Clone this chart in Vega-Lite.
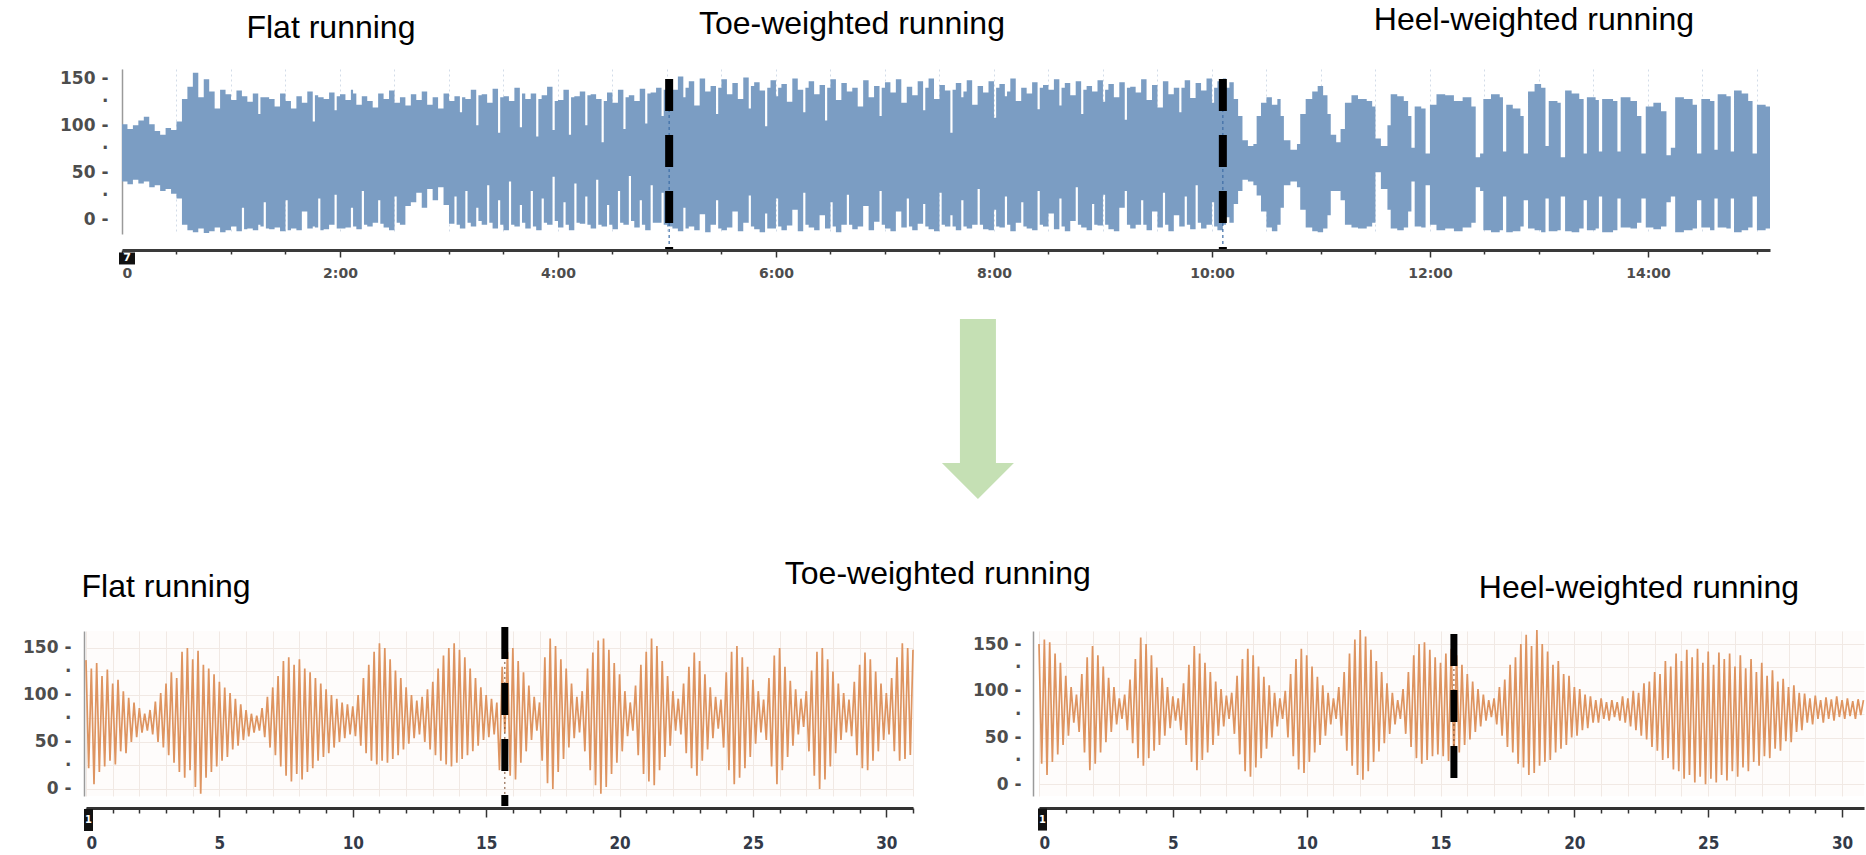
{
"$schema": "https://vega.github.io/schema/vega-lite/v6.json",
"background": "white",
"padding": {"left": 22, "top": 4, "right": 0, "bottom": 0},
"bounds": "flush",
"spacing": 562,
"config": {"view": {"stroke": null}, "axis": {"title": null}},
"datasets": {
"top": [
{"t":0,"v":101,"v2":40},{"t":0.05,"v":96,"v2":37},{"t":0.1,"v":100,"v2":42},{"t":0.15,"v":105,"v2":38},{"t":0.2,"v":109,"v2":40},{"t":0.25,"v":101,"v2":34},{"t":0.3,"v":94,"v2":36},{"t":0.35,"v":90,"v2":30},{"t":0.4,"v":97,"v2":32},{"t":0.45,"v":95,"v2":27},{"t":0.5,"v":104,"v2":22},{"t":0.55,"v":128,"v2":-6},{"t":0.6,"v":141,"v2":-12},{"t":0.65,"v":156,"v2":-14},{"t":0.7,"v":130,"v2":-10},{"t":0.75,"v":149,"v2":-15},{"t":0.8,"v":136,"v2":-13},{"t":0.85,"v":118,"v2":-9},{"t":0.9,"v":138,"v2":-14},{"t":0.95,"v":133,"v2":-12},
{"t":1,"v":127,"v2":-8},{"t":1.05,"v":137,"v2":-13},{"t":1.1,"v":131,"v2":12},{"t":1.12,"v":131,"v2":-11},{"t":1.15,"v":125,"v2":-10},{"t":1.2,"v":134,"v2":-12},{"t":1.25,"v":112,"v2":-6},{"t":1.27,"v":130,"v2":-8},{"t":1.3,"v":130,"v2":18},{"t":1.32,"v":130,"v2":-10},{"t":1.35,"v":128,"v2":-11},{"t":1.4,"v":120,"v2":-9},{"t":1.45,"v":134,"v2":-13},{"t":1.5,"v":126,"v2":20},{"t":1.52,"v":126,"v2":-12},{"t":1.55,"v":118,"v2":-10},{"t":1.6,"v":131,"v2":-12},{"t":1.65,"v":124,"v2":8},{"t":1.7,"v":136,"v2":-10},{"t":1.75,"v":104,"v2":-8},{"t":1.77,"v":132,"v2":-9},{"t":1.8,"v":130,"v2":22},{"t":1.82,"v":130,"v2":-12},{"t":1.85,"v":128,"v2":-11},{"t":1.9,"v":135,"v2":-6},{"t":1.95,"v":116,"v2":26},{"t":1.97,"v":131,"v2":-10},
{"t":2,"v":133,"v2":-10},{"t":2.05,"v":127,"v2":-9},{"t":2.1,"v":138,"v2":12},{"t":2.12,"v":134,"v2":-8},{"t":2.15,"v":122,"v2":-11},{"t":2.2,"v":131,"v2":30},{"t":2.22,"v":131,"v2":-6},{"t":2.25,"v":126,"v2":-8},{"t":2.3,"v":119,"v2":-4},{"t":2.35,"v":134,"v2":20},{"t":2.37,"v":134,"v2":-5},{"t":2.4,"v":128,"v2":-9},{"t":2.45,"v":137,"v2":-12},{"t":2.5,"v":124,"v2":24},{"t":2.52,"v":124,"v2":-4},{"t":2.55,"v":130,"v2":-6},{"t":2.6,"v":121,"v2":14},{"t":2.65,"v":133,"v2":18},{"t":2.7,"v":127,"v2":28},{"t":2.75,"v":136,"v2":12},{"t":2.8,"v":122,"v2":32},{"t":2.85,"v":130,"v2":20},{"t":2.9,"v":118,"v2":34},{"t":2.95,"v":134,"v2":15},
{"t":3,"v":126,"v2":-5},{"t":3.05,"v":131,"v2":24},{"t":3.07,"v":131,"v2":-6},{"t":3.1,"v":114,"v2":-10},{"t":3.12,"v":130,"v2":-10},{"t":3.15,"v":128,"v2":30},{"t":3.17,"v":128,"v2":-4},{"t":3.2,"v":138,"v2":-8},{"t":3.25,"v":100,"v2":12},{"t":3.27,"v":132,"v2":-2},{"t":3.3,"v":133,"v2":-6},{"t":3.35,"v":124,"v2":36},{"t":3.37,"v":124,"v2":-4},{"t":3.4,"v":139,"v2":-10},{"t":3.45,"v":92,"v2":20},{"t":3.47,"v":130,"v2":-6},{"t":3.5,"v":131,"v2":-12},{"t":3.55,"v":126,"v2":40},{"t":3.57,"v":126,"v2":-6},{"t":3.6,"v":140,"v2":-8},{"t":3.65,"v":98,"v2":15},{"t":3.67,"v":134,"v2":-4},{"t":3.7,"v":128,"v2":-10},{"t":3.75,"v":134,"v2":30},{"t":3.77,"v":134,"v2":-8},{"t":3.8,"v":88,"v2":-12},{"t":3.82,"v":128,"v2":-12},{"t":3.85,"v":132,"v2":22},{"t":3.87,"v":132,"v2":-4},{"t":3.9,"v":141,"v2":-6},{"t":3.95,"v":95,"v2":45},{"t":3.97,"v":126,"v2":-2},
{"t":4,"v":127,"v2":-9},{"t":4.05,"v":138,"v2":18},{"t":4.07,"v":138,"v2":-6},{"t":4.1,"v":90,"v2":-12},{"t":4.12,"v":130,"v2":-12},{"t":4.15,"v":131,"v2":38},{"t":4.17,"v":131,"v2":-4},{"t":4.2,"v":136,"v2":-5},{"t":4.25,"v":100,"v2":24},{"t":4.27,"v":132,"v2":-6},{"t":4.3,"v":133,"v2":-10},{"t":4.35,"v":128,"v2":42},{"t":4.37,"v":128,"v2":-6},{"t":4.4,"v":82,"v2":-8},{"t":4.42,"v":126,"v2":-8},{"t":4.45,"v":135,"v2":15},{"t":4.47,"v":135,"v2":-6},{"t":4.5,"v":124,"v2":-11},{"t":4.55,"v":138,"v2":30},{"t":4.57,"v":138,"v2":-4},{"t":4.6,"v":96,"v2":-6},{"t":4.62,"v":130,"v2":-6},{"t":4.65,"v":132,"v2":46},{"t":4.67,"v":132,"v2":-2},{"t":4.7,"v":126,"v2":-9},{"t":4.75,"v":139,"v2":20},{"t":4.77,"v":139,"v2":-6},{"t":4.8,"v":102,"v2":-12},{"t":4.82,"v":134,"v2":-12},{"t":4.85,"v":135,"v2":36},{"t":4.87,"v":135,"v2":-4},{"t":4.9,"v":140,"v2":-4},{"t":4.95,"v":110,"v2":28},{"t":4.97,"v":138,"v2":-6},
{"t":5,"v":146,"v2":-8},{"t":5.05,"v":138,"v2":-10},{"t":5.1,"v":152,"v2":-13},{"t":5.15,"v":130,"v2":12},{"t":5.17,"v":140,"v2":-10},{"t":5.2,"v":147,"v2":-8},{"t":5.25,"v":121,"v2":-12},{"t":5.3,"v":150,"v2":5},{"t":5.35,"v":136,"v2":-14},{"t":5.4,"v":142,"v2":-6},{"t":5.45,"v":112,"v2":20},{"t":5.47,"v":140,"v2":-10},{"t":5.5,"v":149,"v2":-12},{"t":5.55,"v":133,"v2":-9},{"t":5.6,"v":145,"v2":8},{"t":5.65,"v":128,"v2":-13},{"t":5.7,"v":151,"v2":-4},{"t":5.75,"v":118,"v2":25},{"t":5.77,"v":142,"v2":-8},{"t":5.8,"v":146,"v2":-11},{"t":5.85,"v":137,"v2":-14},{"t":5.9,"v":99,"v2":6},{"t":5.92,"v":140,"v2":-10},{"t":5.95,"v":148,"v2":-10},
{"t":6,"v":131,"v2":22},{"t":6.02,"v":140,"v2":-8},{"t":6.05,"v":144,"v2":-12},{"t":6.1,"v":125,"v2":-7},{"t":6.15,"v":150,"v2":10},{"t":6.2,"v":138,"v2":-13},{"t":6.25,"v":114,"v2":28},{"t":6.27,"v":140,"v2":-6},{"t":6.3,"v":147,"v2":-9},{"t":6.35,"v":133,"v2":-12},{"t":6.4,"v":143,"v2":4},{"t":6.45,"v":105,"v2":-10},{"t":6.47,"v":140,"v2":-10},{"t":6.5,"v":149,"v2":18},{"t":6.52,"v":149,"v2":-8},{"t":6.55,"v":127,"v2":-14},{"t":6.6,"v":145,"v2":-6},{"t":6.65,"v":136,"v2":26},{"t":6.67,"v":136,"v2":-6},{"t":6.7,"v":140,"v2":-11},{"t":6.75,"v":120,"v2":-8},{"t":6.8,"v":148,"v2":14},{"t":6.85,"v":130,"v2":-12},{"t":6.9,"v":142,"v2":-3},{"t":6.95,"v":110,"v2":30},{"t":6.97,"v":140,"v2":-6},
{"t":7,"v":146,"v2":-10},{"t":7.05,"v":135,"v2":-13},{"t":7.1,"v":149,"v2":8},{"t":7.15,"v":124,"v2":-9},{"t":7.2,"v":141,"v2":22},{"t":7.22,"v":141,"v2":-8},{"t":7.25,"v":132,"v2":-12},{"t":7.3,"v":147,"v2":-5},{"t":7.35,"v":116,"v2":16},{"t":7.37,"v":140,"v2":-8},{"t":7.4,"v":150,"v2":-11},{"t":7.45,"v":128,"v2":-13},{"t":7.5,"v":143,"v2":28},{"t":7.52,"v":143,"v2":-6},{"t":7.55,"v":137,"v2":-8},{"t":7.6,"v":92,"v2":4},{"t":7.62,"v":138,"v2":-8},{"t":7.65,"v":145,"v2":-12},{"t":7.7,"v":130,"v2":20},{"t":7.72,"v":136,"v2":-8},{"t":7.75,"v":148,"v2":-10},{"t":7.8,"v":122,"v2":-6},{"t":7.85,"v":142,"v2":32},{"t":7.87,"v":142,"v2":-6},{"t":7.9,"v":135,"v2":-11},{"t":7.95,"v":147,"v2":-12},
{"t":8,"v":108,"v2":10},{"t":8.02,"v":140,"v2":-8},{"t":8.05,"v":144,"v2":-9},{"t":8.1,"v":131,"v2":24},{"t":8.12,"v":136,"v2":-6},{"t":8.15,"v":150,"v2":-13},{"t":8.2,"v":126,"v2":-4},{"t":8.25,"v":140,"v2":18},{"t":8.27,"v":140,"v2":-8},{"t":8.3,"v":134,"v2":-10},{"t":8.35,"v":146,"v2":-12},{"t":8.4,"v":117,"v2":30},{"t":8.42,"v":140,"v2":-6},{"t":8.45,"v":143,"v2":-8},{"t":8.5,"v":138,"v2":6},{"t":8.55,"v":149,"v2":-11},{"t":8.6,"v":121,"v2":22},{"t":8.62,"v":140,"v2":-8},{"t":8.65,"v":145,"v2":-13},{"t":8.7,"v":132,"v2":-2},{"t":8.75,"v":147,"v2":34},{"t":8.77,"v":147,"v2":-6},{"t":8.8,"v":112,"v2":-9},{"t":8.82,"v":138,"v2":-9},{"t":8.85,"v":142,"v2":-12},{"t":8.9,"v":136,"v2":16},{"t":8.92,"v":136,"v2":-6},{"t":8.95,"v":148,"v2":-7},
{"t":9,"v":125,"v2":26},{"t":9.02,"v":138,"v2":-6},{"t":9.05,"v":144,"v2":-11},{"t":9.1,"v":130,"v2":-13},{"t":9.15,"v":146,"v2":12},{"t":9.2,"v":106,"v2":30},{"t":9.22,"v":140,"v2":-6},{"t":9.25,"v":141,"v2":-10},{"t":9.3,"v":135,"v2":-6},{"t":9.35,"v":149,"v2":20},{"t":9.37,"v":149,"v2":-6},{"t":9.4,"v":127,"v2":-12},{"t":9.45,"v":143,"v2":8},{"t":9.5,"v":119,"v2":-9},{"t":9.55,"v":147,"v2":28},{"t":9.57,"v":147,"v2":-6},{"t":9.6,"v":133,"v2":-13},{"t":9.65,"v":140,"v2":4},{"t":9.7,"v":114,"v2":-8},{"t":9.72,"v":140,"v2":-8},{"t":9.75,"v":148,"v2":24},{"t":9.77,"v":148,"v2":-6},{"t":9.8,"v":129,"v2":-11},{"t":9.85,"v":145,"v2":36},{"t":9.87,"v":145,"v2":-4},{"t":9.9,"v":137,"v2":-10},{"t":9.95,"v":150,"v2":-6},
{"t":10,"v":124,"v2":18},{"t":10.02,"v":140,"v2":-8},{"t":10.05,"v":147,"v2":-12},{"t":10.1,"v":150,"v2":-6},{"t":10.13,"v":140,"v2":2},{"t":10.16,"v":146,"v2":-4},{"t":10.2,"v":128,"v2":16},{"t":10.24,"v":110,"v2":30},{"t":10.28,"v":84,"v2":42},{"t":10.33,"v":78,"v2":40},{"t":10.38,"v":80,"v2":36},{"t":10.41,"v":110,"v2":25},{"t":10.45,"v":124,"v2":8},{"t":10.5,"v":130,"v2":-9},{"t":10.55,"v":122,"v2":-13},{"t":10.6,"v":128,"v2":-6},{"t":10.63,"v":110,"v2":12},{"t":10.66,"v":84,"v2":36},{"t":10.72,"v":74,"v2":40},{"t":10.78,"v":80,"v2":34},{"t":10.81,"v":112,"v2":10},
{"t":10.86,"v":128,"v2":-9},{"t":10.92,"v":136,"v2":-13},{"t":10.97,"v":142,"v2":-14},{"t":11.02,"v":132,"v2":-10},{"t":11.06,"v":112,"v2":4},{"t":11.09,"v":90,"v2":30},{"t":11.14,"v":82,"v2":30},{"t":11.18,"v":96,"v2":20},{"t":11.22,"v":124,"v2":-6},{"t":11.28,"v":132,"v2":-9},{"t":11.34,"v":128,"v2":-10},{"t":11.42,"v":126,"v2":-8},{"t":11.47,"v":120,"v2":-4},{"t":11.5,"v":86,"v2":50},{"t":11.55,"v":78,"v2":32},{"t":11.61,"v":100,"v2":10},{"t":11.64,"v":133,"v2":-10},{"t":11.7,"v":131,"v2":-12},{"t":11.76,"v":126,"v2":-9},{"t":11.8,"v":110,"v2":8},
{"t":11.83,"v":76,"v2":40},{"t":11.86,"v":120,"v2":-8},{"t":11.92,"v":118,"v2":-9},{"t":11.96,"v":70,"v2":36},{"t":12,"v":122,"v2":-6},{"t":12.06,"v":133,"v2":-12},{"t":12.14,"v":132,"v2":-10},{"t":12.22,"v":126,"v2":-13},{"t":12.3,"v":130,"v2":-9},{"t":12.38,"v":120,"v2":-4},{"t":12.42,"v":66,"v2":34},{"t":12.46,"v":70,"v2":30},{"t":12.49,"v":128,"v2":-12},{"t":12.56,"v":133,"v2":-14},{"t":12.64,"v":130,"v2":-12},{"t":12.67,"v":72,"v2":24},{"t":12.7,"v":122,"v2":-14},{"t":12.76,"v":118,"v2":-13},{"t":12.83,"v":110,"v2":-8},{"t":12.86,"v":70,"v2":20},
{"t":12.9,"v":136,"v2":-10},{"t":12.96,"v":144,"v2":-12},{"t":13.02,"v":140,"v2":-14},{"t":13.06,"v":78,"v2":22},{"t":13.09,"v":126,"v2":-13},{"t":13.17,"v":124,"v2":-12},{"t":13.2,"v":66,"v2":24},{"t":13.24,"v":137,"v2":-13},{"t":13.3,"v":134,"v2":-14},{"t":13.37,"v":128,"v2":-10},{"t":13.41,"v":70,"v2":20},{"t":13.44,"v":130,"v2":-12},{"t":13.52,"v":127,"v2":-10},{"t":13.55,"v":72,"v2":24},{"t":13.58,"v":128,"v2":-14},{"t":13.68,"v":126,"v2":-12},{"t":13.72,"v":72,"v2":22},{"t":13.75,"v":130,"v2":-9},{"t":13.84,"v":126,"v2":-10},{"t":13.9,"v":110,"v2":-4},
{"t":13.94,"v":70,"v2":22},{"t":13.98,"v":120,"v2":-9},{"t":14.05,"v":124,"v2":-11},{"t":14.12,"v":115,"v2":-8},{"t":14.17,"v":68,"v2":18},{"t":14.21,"v":76,"v2":24},{"t":14.25,"v":130,"v2":-14},{"t":14.33,"v":128,"v2":-12},{"t":14.41,"v":122,"v2":-10},{"t":14.45,"v":70,"v2":20},{"t":14.49,"v":128,"v2":-9},{"t":14.57,"v":126,"v2":-12},{"t":14.61,"v":74,"v2":22},{"t":14.64,"v":133,"v2":-9},{"t":14.72,"v":131,"v2":-10},{"t":14.76,"v":72,"v2":22},{"t":14.79,"v":137,"v2":-14},{"t":14.86,"v":134,"v2":-12},{"t":14.92,"v":126,"v2":-9},{"t":14.96,"v":70,"v2":24},
{"t":15,"v":122,"v2":-12},{"t":15.08,"v":120,"v2":-10},{"t":15.12,"v":118,"v2":-8}
],
"topSplit": [{"t":5.02,"v":149.3,"v2":-32},{"t":10.1,"v":149.3,"v2":-32}],
"topTitles": [{"t":1.917,"v":193.1,"label":"Flat running"},{"t":6.697,"v":197.3,"label":"Toe-weighted running"},{"t":12.954,"v":201.6,"label":"Heel-weighted running"}],
"arrow": [{"t":7.853,"v":-202.7}],
"topBox": [{"t":0.046,"v":-42.1,"label":"7"}],
"bl": [
{"t":0,"v":137},{"t":0.1,"v":22},{"t":0.2,"v":128},{"t":0.3,"v":5},{"t":0.4,"v":134},{"t":0.5,"v":18},{"t":0.6,"v":120},{"t":0.7,"v":24},{"t":0.8,"v":127},{"t":0.9,"v":30},
{"t":1,"v":112},{"t":1.1,"v":26},{"t":1.2,"v":116},{"t":1.3,"v":40},{"t":1.4,"v":104},{"t":1.5,"v":38},{"t":1.6,"v":97},{"t":1.7,"v":50},{"t":1.8,"v":92},{"t":1.9,"v":55},
{"t":2,"v":86},{"t":2.1,"v":60},{"t":2.2,"v":80},{"t":2.3,"v":62},{"t":2.4,"v":84},{"t":2.5,"v":58},{"t":2.6,"v":93},{"t":2.7,"v":50},{"t":2.8,"v":102},{"t":2.9,"v":44},
{"t":3,"v":112},{"t":3.1,"v":36},{"t":3.2,"v":124},{"t":3.3,"v":28},{"t":3.4,"v":118},{"t":3.5,"v":18},{"t":3.6,"v":146},{"t":3.7,"v":12},{"t":3.8,"v":150},{"t":3.9,"v":20},
{"t":4,"v":138},{"t":4.1,"v":2},{"t":4.2,"v":147},{"t":4.3,"v":-5},{"t":4.4,"v":132},{"t":4.5,"v":12},{"t":4.6,"v":128},{"t":4.7,"v":18},{"t":4.8,"v":122},{"t":4.9,"v":24},
{"t":5,"v":114},{"t":5.1,"v":30},{"t":5.2,"v":108},{"t":5.3,"v":34},{"t":5.4,"v":102},{"t":5.5,"v":42},{"t":5.6,"v":96},{"t":5.7,"v":46},{"t":5.8,"v":90},{"t":5.9,"v":52},
{"t":6,"v":84},{"t":6.1,"v":56},{"t":6.2,"v":80},{"t":6.3,"v":60},{"t":6.4,"v":78},{"t":6.5,"v":62},{"t":6.6,"v":86},{"t":6.7,"v":55},{"t":6.8,"v":98},{"t":6.9,"v":44},
{"t":7,"v":108},{"t":7.1,"v":36},{"t":7.2,"v":120},{"t":7.3,"v":24},{"t":7.4,"v":136},{"t":7.5,"v":14},{"t":7.6,"v":140},{"t":7.7,"v":8},{"t":7.8,"v":132},{"t":7.9,"v":16},
{"t":8,"v":138},{"t":8.1,"v":10},{"t":8.2,"v":128},{"t":8.3,"v":18},{"t":8.4,"v":124},{"t":8.5,"v":22},{"t":8.6,"v":118},{"t":8.7,"v":30},{"t":8.8,"v":112},{"t":8.9,"v":34},
{"t":9,"v":106},{"t":9.1,"v":38},{"t":9.2,"v":100},{"t":9.3,"v":44},{"t":9.4,"v":96},{"t":9.5,"v":50},{"t":9.6,"v":92},{"t":9.7,"v":54},{"t":9.8,"v":90},{"t":9.9,"v":58},
{"t":10,"v":88},{"t":10.1,"v":56},{"t":10.2,"v":100},{"t":10.3,"v":46},{"t":10.4,"v":118},{"t":10.5,"v":38},{"t":10.6,"v":132},{"t":10.7,"v":30},{"t":10.8,"v":146},{"t":10.9,"v":26},
{"t":11,"v":155},{"t":11.1,"v":30},{"t":11.2,"v":150},{"t":11.3,"v":28},{"t":11.4,"v":138},{"t":11.5,"v":32},{"t":11.6,"v":126},{"t":11.7,"v":36},{"t":11.8,"v":118},{"t":11.9,"v":42},
{"t":12,"v":108},{"t":12.1,"v":48},{"t":12.2,"v":100},{"t":12.3,"v":54},{"t":12.4,"v":94},{"t":12.5,"v":58},{"t":12.6,"v":98},{"t":12.7,"v":50},{"t":12.8,"v":106},{"t":12.9,"v":42},
{"t":13,"v":114},{"t":13.1,"v":36},{"t":13.2,"v":128},{"t":13.3,"v":30},{"t":13.4,"v":142},{"t":13.5,"v":26},{"t":13.6,"v":150},{"t":13.7,"v":24},{"t":13.8,"v":155},{"t":13.9,"v":28},
{"t":14,"v":148},{"t":14.1,"v":32},{"t":14.2,"v":140},{"t":14.3,"v":36},{"t":14.4,"v":128},{"t":14.5,"v":40},{"t":14.6,"v":118},{"t":14.7,"v":46},{"t":14.8,"v":108},{"t":14.9,"v":52},
{"t":15,"v":100},{"t":15.1,"v":55},{"t":15.2,"v":96},{"t":15.3,"v":58},{"t":15.4,"v":92},{"t":15.5,"v":20},{"t":15.6,"v":130},{"t":15.7,"v":60},{"t":15.8,"v":146},{"t":15.9,"v":14},
{"t":16,"v":150},{"t":16.1,"v":10},{"t":16.2,"v":136},{"t":16.3,"v":28},{"t":16.4,"v":124},{"t":16.5,"v":40},{"t":16.6,"v":110},{"t":16.7,"v":52},{"t":16.8,"v":98},{"t":16.9,"v":62},
{"t":17,"v":92},{"t":17.1,"v":30},{"t":17.2,"v":140},{"t":17.3,"v":6},{"t":17.4,"v":160},{"t":17.5,"v":0},{"t":17.6,"v":152},{"t":17.7,"v":18},{"t":17.8,"v":138},{"t":17.9,"v":32},
{"t":18,"v":128},{"t":18.1,"v":44},{"t":18.2,"v":112},{"t":18.3,"v":54},{"t":18.4,"v":98},{"t":18.5,"v":60},{"t":18.6,"v":104},{"t":18.7,"v":40},{"t":18.8,"v":128},{"t":18.9,"v":20},
{"t":19,"v":145},{"t":19.1,"v":4},{"t":19.2,"v":158},{"t":19.3,"v":-5},{"t":19.4,"v":160},{"t":19.5,"v":2},{"t":19.6,"v":148},{"t":19.7,"v":16},{"t":19.8,"v":134},{"t":19.9,"v":28},
{"t":20,"v":122},{"t":20.1,"v":40},{"t":20.2,"v":104},{"t":20.3,"v":56},{"t":20.4,"v":92},{"t":20.5,"v":62},{"t":20.6,"v":110},{"t":20.7,"v":36},{"t":20.8,"v":132},{"t":20.9,"v":16},
{"t":21,"v":146},{"t":21.1,"v":8},{"t":21.2,"v":160},{"t":21.3,"v":4},{"t":21.4,"v":152},{"t":21.5,"v":20},{"t":21.6,"v":136},{"t":21.7,"v":34},{"t":21.8,"v":120},{"t":21.9,"v":46},
{"t":22,"v":104},{"t":22.1,"v":62},{"t":22.2,"v":96},{"t":22.3,"v":58},{"t":22.4,"v":112},{"t":22.5,"v":38},{"t":22.6,"v":130},{"t":22.7,"v":22},{"t":22.8,"v":145},{"t":22.9,"v":14},
{"t":23,"v":136},{"t":23.1,"v":30},{"t":23.2,"v":122},{"t":23.3,"v":42},{"t":23.4,"v":108},{"t":23.5,"v":54},{"t":23.6,"v":98},{"t":23.7,"v":64},{"t":23.8,"v":95},{"t":23.9,"v":44},
{"t":24,"v":124},{"t":24.1,"v":20},{"t":24.2,"v":146},{"t":24.3,"v":5},{"t":24.4,"v":152},{"t":24.5,"v":12},{"t":24.6,"v":140},{"t":24.7,"v":22},{"t":24.8,"v":130},{"t":24.9,"v":34},
{"t":25,"v":116},{"t":25.1,"v":48},{"t":25.2,"v":104},{"t":25.3,"v":60},{"t":25.4,"v":95},{"t":25.5,"v":52},{"t":25.6,"v":118},{"t":25.7,"v":24},{"t":25.8,"v":142},{"t":25.9,"v":5},
{"t":26,"v":150},{"t":26.1,"v":20},{"t":26.2,"v":130},{"t":26.3,"v":34},{"t":26.4,"v":115},{"t":26.5,"v":46},{"t":26.6,"v":106},{"t":26.7,"v":58},{"t":26.8,"v":96},{"t":26.9,"v":66},
{"t":27,"v":104},{"t":27.1,"v":40},{"t":27.2,"v":126},{"t":27.3,"v":14},{"t":27.4,"v":146},{"t":27.5,"v":0},{"t":27.6,"v":150},{"t":27.7,"v":10},{"t":27.8,"v":138},{"t":27.9,"v":24},
{"t":28,"v":125},{"t":28.1,"v":38},{"t":28.2,"v":112},{"t":28.3,"v":52},{"t":28.4,"v":102},{"t":28.5,"v":60},{"t":28.6,"v":95},{"t":28.7,"v":56},{"t":28.8,"v":114},{"t":28.9,"v":36},
{"t":29,"v":132},{"t":29.1,"v":22},{"t":29.2,"v":145},{"t":29.3,"v":20},{"t":29.4,"v":138},{"t":29.5,"v":30},{"t":29.6,"v":125},{"t":29.7,"v":40},{"t":29.8,"v":112},{"t":29.9,"v":52},
{"t":30,"v":102},{"t":30.1,"v":58},{"t":30.2,"v":118},{"t":30.3,"v":40},{"t":30.4,"v":140},{"t":30.5,"v":30},{"t":30.6,"v":155},{"t":30.7,"v":32},{"t":30.8,"v":150},{"t":30.9,"v":36},
{"t":31,"v":148}
],
"blSplit": [{"t":15.7,"v":172.3,"v2":-18.1}],
"blTitles": [{"t":3.0,"v":204.2,"label":"Flat running"},{"t":31.93,"v":218.0,"label":"Toe-weighted running"}],
"blBox": [{"t":0.094,"v":-33.0,"label":"1"}],
"br": [
{"t":0,"v":150},{"t":0.1,"v":22},{"t":0.2,"v":155},{"t":0.3,"v":10},{"t":0.4,"v":152},{"t":0.5,"v":24},{"t":0.6,"v":140},{"t":0.7,"v":32},{"t":0.8,"v":130},{"t":0.9,"v":42},
{"t":1,"v":116},{"t":1.1,"v":52},{"t":1.2,"v":104},{"t":1.3,"v":66},{"t":1.4,"v":96},{"t":1.5,"v":56},{"t":1.6,"v":118},{"t":1.7,"v":34},{"t":1.8,"v":136},{"t":1.9,"v":15},
{"t":2,"v":148},{"t":2.1,"v":22},{"t":2.2,"v":138},{"t":2.3,"v":34},{"t":2.4,"v":126},{"t":2.5,"v":45},{"t":2.6,"v":114},{"t":2.7,"v":56},{"t":2.8,"v":104},{"t":2.9,"v":64},
{"t":3,"v":92},{"t":3.1,"v":70},{"t":3.2,"v":96},{"t":3.3,"v":58},{"t":3.4,"v":112},{"t":3.5,"v":44},{"t":3.6,"v":134},{"t":3.7,"v":28},{"t":3.8,"v":157},{"t":3.9,"v":20},
{"t":4,"v":150},{"t":4.1,"v":28},{"t":4.2,"v":138},{"t":4.3,"v":36},{"t":4.4,"v":125},{"t":4.5,"v":42},{"t":4.6,"v":114},{"t":4.7,"v":52},{"t":4.8,"v":104},{"t":4.9,"v":60},
{"t":5,"v":94},{"t":5.1,"v":68},{"t":5.2,"v":92},{"t":5.3,"v":58},{"t":5.4,"v":108},{"t":5.5,"v":42},{"t":5.6,"v":128},{"t":5.7,"v":24},{"t":5.8,"v":148},{"t":5.9,"v":15},
{"t":6,"v":140},{"t":6.1,"v":26},{"t":6.2,"v":130},{"t":6.3,"v":34},{"t":6.4,"v":120},{"t":6.5,"v":42},{"t":6.6,"v":110},{"t":6.7,"v":52},{"t":6.8,"v":102},{"t":6.9,"v":62},
{"t":7,"v":95},{"t":7.1,"v":70},{"t":7.2,"v":98},{"t":7.3,"v":54},{"t":7.4,"v":116},{"t":7.5,"v":32},{"t":7.6,"v":134},{"t":7.7,"v":14},{"t":7.8,"v":145},{"t":7.9,"v":8},
{"t":8,"v":138},{"t":8.1,"v":18},{"t":8.2,"v":126},{"t":8.3,"v":28},{"t":8.4,"v":115},{"t":8.5,"v":38},{"t":8.6,"v":106},{"t":8.7,"v":50},{"t":8.8,"v":98},{"t":8.9,"v":62},
{"t":9,"v":92},{"t":9.1,"v":70},{"t":9.2,"v":100},{"t":9.3,"v":50},{"t":9.4,"v":118},{"t":9.5,"v":30},{"t":9.6,"v":134},{"t":9.7,"v":16},{"t":9.8,"v":145},{"t":9.9,"v":12},
{"t":10,"v":138},{"t":10.1,"v":24},{"t":10.2,"v":126},{"t":10.3,"v":34},{"t":10.4,"v":115},{"t":10.5,"v":42},{"t":10.6,"v":106},{"t":10.7,"v":52},{"t":10.8,"v":98},{"t":10.9,"v":64},
{"t":11,"v":92},{"t":11.1,"v":70},{"t":11.2,"v":104},{"t":11.3,"v":52},{"t":11.4,"v":120},{"t":11.5,"v":36},{"t":11.6,"v":140},{"t":11.7,"v":20},{"t":11.8,"v":155},{"t":11.9,"v":10},
{"t":12,"v":165},{"t":12.1,"v":5},{"t":12.2,"v":158},{"t":12.3,"v":14},{"t":12.4,"v":144},{"t":12.5,"v":24},{"t":12.6,"v":132},{"t":12.7,"v":35},{"t":12.8,"v":120},{"t":12.9,"v":44},
{"t":13,"v":108},{"t":13.1,"v":54},{"t":13.2,"v":98},{"t":13.3,"v":64},{"t":13.4,"v":90},{"t":13.5,"v":70},{"t":13.6,"v":102},{"t":13.7,"v":54},{"t":13.8,"v":120},{"t":13.9,"v":40},
{"t":14,"v":138},{"t":14.1,"v":28},{"t":14.2,"v":150},{"t":14.3,"v":22},{"t":14.4,"v":152},{"t":14.5,"v":26},{"t":14.6,"v":144},{"t":14.7,"v":30},{"t":14.8,"v":136},{"t":14.9,"v":32},
{"t":15,"v":130},{"t":15.1,"v":30},{"t":15.2,"v":140},{"t":15.3,"v":25},{"t":15.4,"v":145},{"t":15.5,"v":28},{"t":15.6,"v":138},{"t":15.7,"v":34},{"t":15.8,"v":128},{"t":15.9,"v":42},
{"t":16,"v":118},{"t":16.1,"v":48},{"t":16.2,"v":110},{"t":16.3,"v":56},{"t":16.4,"v":102},{"t":16.5,"v":62},{"t":16.6,"v":96},{"t":16.7,"v":68},{"t":16.8,"v":90},{"t":16.9,"v":72},
{"t":17,"v":92},{"t":17.1,"v":64},{"t":17.2,"v":104},{"t":17.3,"v":52},{"t":17.4,"v":112},{"t":17.5,"v":40},{"t":17.6,"v":128},{"t":17.7,"v":34},{"t":17.8,"v":136},{"t":17.9,"v":22},
{"t":18,"v":150},{"t":18.1,"v":18},{"t":18.2,"v":160},{"t":18.3,"v":10},{"t":18.4,"v":148},{"t":18.5,"v":12},{"t":18.6,"v":165},{"t":18.7,"v":20},{"t":18.8,"v":150},{"t":18.9,"v":24},
{"t":19,"v":142},{"t":19.1,"v":26},{"t":19.2,"v":128},{"t":19.3,"v":34},{"t":19.4,"v":132},{"t":19.5,"v":38},{"t":19.6,"v":118},{"t":19.7,"v":42},{"t":19.8,"v":116},{"t":19.9,"v":50},
{"t":20,"v":104},{"t":20.1,"v":52},{"t":20.2,"v":102},{"t":20.3,"v":58},{"t":20.4,"v":96},{"t":20.5,"v":60},{"t":20.6,"v":94},{"t":20.7,"v":66},{"t":20.8,"v":90},{"t":20.9,"v":66},
{"t":21,"v":92},{"t":21.1,"v":70},{"t":21.2,"v":88},{"t":21.3,"v":68},{"t":21.4,"v":90},{"t":21.5,"v":72},{"t":21.6,"v":88},{"t":21.7,"v":68},{"t":21.8,"v":94},{"t":21.9,"v":66},
{"t":22,"v":92},{"t":22.1,"v":62},{"t":22.2,"v":100},{"t":22.3,"v":58},{"t":22.4,"v":98},{"t":22.5,"v":52},{"t":22.6,"v":108},{"t":22.7,"v":48},{"t":22.8,"v":110},{"t":22.9,"v":40},
{"t":23,"v":120},{"t":23.1,"v":36},{"t":23.2,"v":118},{"t":23.3,"v":26},{"t":23.4,"v":132},{"t":23.5,"v":28},{"t":23.6,"v":126},{"t":23.7,"v":16},{"t":23.8,"v":140},{"t":23.9,"v":14},
{"t":24,"v":132},{"t":24.1,"v":6},{"t":24.2,"v":144},{"t":24.3,"v":10},{"t":24.4,"v":136},{"t":24.5,"v":2},{"t":24.6,"v":145},{"t":24.7,"v":8},{"t":24.8,"v":130},{"t":24.9,"v":0},
{"t":25,"v":142},{"t":25.1,"v":6},{"t":25.2,"v":128},{"t":25.3,"v":2},{"t":25.4,"v":141},{"t":25.5,"v":10},{"t":25.6,"v":134},{"t":25.7,"v":4},{"t":25.8,"v":140},{"t":25.9,"v":14},
{"t":26,"v":126},{"t":26.1,"v":8},{"t":26.2,"v":138},{"t":26.3,"v":18},{"t":26.4,"v":124},{"t":26.5,"v":14},{"t":26.6,"v":134},{"t":26.7,"v":24},{"t":26.8,"v":120},{"t":26.9,"v":20},
{"t":27,"v":130},{"t":27.1,"v":30},{"t":27.2,"v":116},{"t":27.3,"v":28},{"t":27.4,"v":122},{"t":27.5,"v":38},{"t":27.6,"v":110},{"t":27.7,"v":36},{"t":27.8,"v":113},{"t":27.9,"v":46},
{"t":28,"v":104},{"t":28.1,"v":45},{"t":28.2,"v":106},{"t":28.3,"v":56},{"t":28.4,"v":98},{"t":28.5,"v":58},{"t":28.6,"v":97},{"t":28.7,"v":66},{"t":28.8,"v":92},{"t":28.9,"v":64},
{"t":29,"v":95},{"t":29.1,"v":70},{"t":29.2,"v":90},{"t":29.3,"v":66},{"t":29.4,"v":93},{"t":29.5,"v":70},{"t":29.6,"v":91},{"t":29.7,"v":68},{"t":29.8,"v":94},{"t":29.9,"v":72},
{"t":30,"v":90},{"t":30.1,"v":70},{"t":30.2,"v":92},{"t":30.3,"v":73},{"t":30.4,"v":89},{"t":30.5,"v":70},{"t":30.6,"v":91},{"t":30.7,"v":74},{"t":30.8,"v":90}
],
"brSplit": [{"t":15.5,"v":160.8,"v2":6.7}],
"brTitles": [{"t":22.41,"v":199.3,"label":"Heel-weighted running"}],
"brBox": [{"t":0.13,"v":-37.7,"label":"1"}]
},
"vconcat": [
{
"hconcat": [
{"width": 36, "height": 165, "data": {"values": [{"a": 0}]}, "mark": {"type": "text"}, "encoding": {"text": {"value": ""}}},
{
"width": 1648, "height": 165,
"encoding": {
"x": {"field": "t", "type": "quantitative", "scale": {"domain": [0, 15.12], "nice": false, "zero": false},
 "axis": {"title": null, "offset": 16, "values": [0,0.5,1,1.5,2,2.5,3,3.5,4,4.5,5,5.5,6,6.5,7,7.5,8,8.5,9,9.5,10,10.5,11,11.5,12,12.5,13,13.5,14,14.5,15],
 "labelExpr": "datum.value == 0 ? '0' : (datum.value % 2 == 0 ? datum.value + ':00' : '')",
 "labelOverlap": false, "grid": true, "gridColor": "#d3dce8", "gridDash": [2, 3], "gridWidth": 1,
 "domainColor": "#3a3a3a", "domainWidth": 3, "tickColor": "#333333", "tickWidth": 1.5,
 "tickSize": {"condition": {"test": "datum.value % 2 == 0", "value": 7}, "value": 4},
 "labelFont": "DejaVu Sans", "labelFontWeight": "bold", "labelFontSize": 14, "labelColor": "#4d4d4d", "labelPadding": 9}},
"y": {"field": "v", "type": "quantitative", "scale": {"domain": [-16, 160], "nice": false, "zero": false},
 "axis": {"title": null, "values": [0,25,50,75,100,125,150], "labelExpr": "datum.value % 50 == 0 ? datum.value + ' -' : '·'",
 "ticks": false, "grid": false, "domainColor": "#9a9a9a", "domainWidth": 1.5,
 "labelFont": "DejaVu Sans", "labelFontWeight": "bold", "labelFontSize": 17, "labelColor": "#4d4d4d", "labelPadding": 14, "labelFlush": false}}
},
"layer": [
{"data": {"name": "top"}, "mark": {"type": "area", "color": "#7b9dc3", "opacity": 1, "interpolate": "step-after"}, "encoding": {"y2": {"field": "v2"}}},
{"data": {"name": "topSplit"}, "mark": {"type": "rule", "color": "#3d6da6", "strokeWidth": 1.2, "strokeDash": [3, 3]}, "encoding": {"y2": {"field": "v2"}}},
{"data": {"name": "topSplit"}, "mark": {"type": "rule", "color": "#000000", "strokeWidth": 8, "strokeDash": [32, 24]}, "encoding": {"y2": {"field": "v2"}}},
{"data": {"name": "topTitles"}, "mark": {"type": "text", "font": "Liberation Sans", "fontSize": 32, "color": "#000000", "align": "center", "baseline": "alphabetic"},
 "encoding": {"text": {"field": "label"}}},
{"data": {"name": "arrow"}, "mark": {"type": "point", "shape": "M -0.2 -1 L 0.2 -1 L 0.2 0.6 L 0.4 0.6 L 0 1 L -0.4 0.6 L -0.2 0.6 Z", "size": 32400, "filled": true, "color": "#c5e0b4", "opacity": 1, "strokeWidth": 0}},
{"data": {"name": "topBox"}, "mark": {"type": "point", "shape": "M -1 -0.75 L 1 -0.75 L 1 0.75 L -1 0.75 Z", "size": 256, "filled": true, "color": "#111111", "opacity": 1, "strokeWidth": 0}},
{"data": {"name": "topBox"}, "mark": {"type": "text", "font": "DejaVu Sans", "fontSize": 11, "fontWeight": "bold", "color": "#ffffff", "baseline": "middle", "align": "center"}, "encoding": {"text": {"field": "label"}}}
]
}
],
"spacing": 0,
"bounds": "flush"
},
{
"hconcat": [
{
"width": 827, "height": 165,
"view": {"fill": "#fefcfb", "stroke": null},
"encoding": {
"x": {"field": "t", "type": "quantitative", "scale": {"domain": [0, 31], "nice": false, "zero": false},
 "axis": {"title": null, "offset": 12, "values": [0,1,2,3,4,5,6,7,8,9,10,11,12,13,14,15,16,17,18,19,20,21,22,23,24,25,26,27,28,29,30,31],
 "labelExpr": "datum.value % 5 == 0 ? '' + datum.value : ''", "labelOverlap": false,
 "grid": true, "gridColor": "#f1e9e4", "gridWidth": 1,
 "domainColor": "#333333", "domainWidth": 3, "tickColor": "#333333", "tickWidth": 1.5,
 "tickSize": {"condition": {"test": "datum.value % 5 == 0", "value": 9}, "value": 5},
 "labelFont": "DejaVu Sans Condensed", "labelFontWeight": "bold", "labelFontSize": 17, "labelColor": "#333a48", "labelPadding": 18}},
"y": {"field": "v", "type": "quantitative", "scale": {"domain": [-7.5, 168], "nice": false, "zero": false},
 "axis": {"title": null, "offset": 2, "values": [0,25,50,75,100,125,150], "labelExpr": "datum.value % 50 == 0 ? datum.value + ' -' : '·'",
 "ticks": false, "grid": true, "gridColor": "#f1e9e4", "domainColor": "#9a9a9a", "domainWidth": 1.5,
 "labelFont": "DejaVu Sans", "labelFontWeight": "bold", "labelFontSize": 17, "labelColor": "#4d4d4d", "labelPadding": 13, "labelFlush": false}}
},
"layer": [
{"data": {"name": "bl"}, "mark": {"type": "line", "color": "#de9460", "strokeWidth": 1.7}},
{"data": {"name": "blSplit"}, "mark": {"type": "rule", "color": "#7a4a2a", "strokeWidth": 1, "strokeDash": [2, 3]}, "encoding": {"y2": {"field": "v2"}}},
{"data": {"name": "blSplit"}, "mark": {"type": "rule", "color": "#000000", "strokeWidth": 7, "strokeDash": [32, 24]}, "encoding": {"y2": {"field": "v2"}}},
{"data": {"name": "blTitles"}, "mark": {"type": "text", "font": "Liberation Sans", "fontSize": 32, "color": "#000000", "align": "center", "baseline": "alphabetic"},
 "encoding": {"text": {"field": "label"}}},
{"data": {"name": "blBox"}, "mark": {"type": "point", "shape": "M -0.41 -1 L 0.41 -1 L 0.41 1 L -0.41 1 Z", "size": 484, "filled": true, "color": "#111111", "opacity": 1, "strokeWidth": 0}},
{"data": {"name": "blBox"}, "mark": {"type": "text", "font": "DejaVu Sans Condensed", "fontSize": 11, "fontWeight": "bold", "color": "#ffffff", "baseline": "middle", "align": "center"}, "encoding": {"text": {"field": "label"}}}
]
},
{
"width": 825, "height": 165,
"view": {"fill": "#fefcfb", "stroke": null},
"encoding": {
"x": {"field": "t", "type": "quantitative", "scale": {"domain": [0, 30.82], "nice": false, "zero": false},
 "axis": {"title": null, "offset": 12, "values": [0,1,2,3,4,5,6,7,8,9,10,11,12,13,14,15,16,17,18,19,20,21,22,23,24,25,26,27,28,29,30],
 "labelExpr": "datum.value % 5 == 0 ? '' + datum.value : ''", "labelOverlap": false,
 "grid": true, "gridColor": "#f1e9e4", "gridWidth": 1,
 "domainColor": "#333333", "domainWidth": 3, "tickColor": "#333333", "tickWidth": 1.5,
 "tickSize": {"condition": {"test": "datum.value % 5 == 0", "value": 9}, "value": 5},
 "labelFont": "DejaVu Sans Condensed", "labelFontWeight": "bold", "labelFontSize": 17, "labelColor": "#333a48", "labelPadding": 18}},
"y": {"field": "v", "type": "quantitative", "scale": {"domain": [-12.5, 164], "nice": false, "zero": false},
 "axis": {"title": null, "offset": 6, "values": [0,25,50,75,100,125,150], "labelExpr": "datum.value % 50 == 0 ? datum.value + ' -' : '·'",
 "ticks": false, "grid": true, "gridColor": "#f1e9e4", "domainColor": "#9a9a9a", "domainWidth": 1.5,
 "labelFont": "DejaVu Sans", "labelFontWeight": "bold", "labelFontSize": 17, "labelColor": "#4d4d4d", "labelPadding": 12, "labelFlush": false}}
},
"layer": [
{"data": {"name": "br"}, "mark": {"type": "line", "color": "#de9460", "strokeWidth": 1.7}},
{"data": {"name": "brSplit"}, "mark": {"type": "rule", "color": "#7a4a2a", "strokeWidth": 1, "strokeDash": [2, 3]}, "encoding": {"y2": {"field": "v2"}}},
{"data": {"name": "brSplit"}, "mark": {"type": "rule", "color": "#000000", "strokeWidth": 7, "strokeDash": [32, 24]}, "encoding": {"y2": {"field": "v2"}}},
{"data": {"name": "brTitles"}, "mark": {"type": "text", "font": "Liberation Sans", "fontSize": 32, "color": "#000000", "align": "center", "baseline": "alphabetic"},
 "encoding": {"text": {"field": "label"}}},
{"data": {"name": "brBox"}, "mark": {"type": "point", "shape": "M -0.41 -1 L 0.41 -1 L 0.41 1 L -0.41 1 Z", "size": 484, "filled": true, "color": "#111111", "opacity": 1, "strokeWidth": 0}},
{"data": {"name": "brBox"}, "mark": {"type": "text", "font": "DejaVu Sans Condensed", "fontSize": 11, "fontWeight": "bold", "color": "#ffffff", "baseline": "middle", "align": "center"}, "encoding": {"text": {"field": "label"}}}
]
}
],
"spacing": 126,
"bounds": "flush"
}
]
}
